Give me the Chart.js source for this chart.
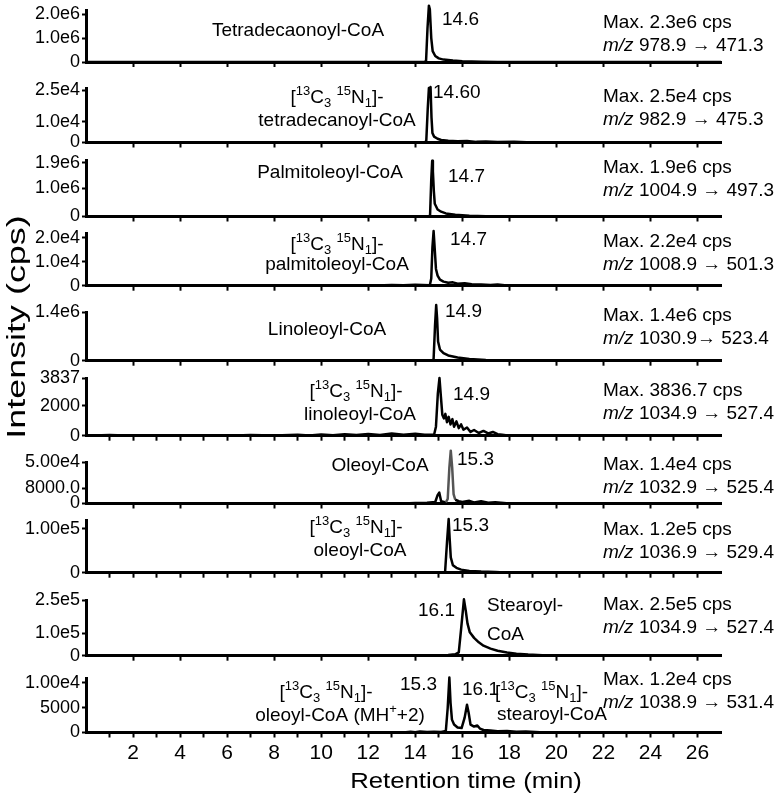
<!DOCTYPE html>
<html>
<head>
<meta charset="utf-8">
<script src="https://cdn.jsdelivr.net/npm/chart.js@4.4.1/dist/chart.umd.min.js"></script>
<style>
  html, body { margin: 0; padding: 0; background: #fff; }
  #figure { position: relative; width: 781px; height: 801px; }
  #figure canvas { position: absolute; left: 0; top: 0; }
</style>
</head>
<body>
<div id="figure"></div>
<script>
// Retention time axis (min).
const xTickLabels = [2, 4, 6, 8, 10, 12, 14, 16, 18, 20, 22, 24, 26];

// Chromatogram traces: [retention time (min), intensity (cps)].
const tetradecanoylCoA = [[0, 0], [14.40, 0], [14.46, 0.05e6], [14.52, 1.4e6], [14.58, 2.35e6], [14.62, 2.2e6], [14.68, 1.0e6], [14.74, 0.45e6], [14.85, 0.25e6], [15.0, 0.15e6], [15.2, 0.1e6], [15.6, 0.06e6], [16.0, 0.03e6], [16.8, 0.01e6], [17.5, 0], [27, 0]];
const tetradecanoylCoAIS = [[0, 0], [14.42, 0], [14.47, 1000], [14.53, 16000], [14.58, 26000], [14.61, 24500], [14.65, 26500], [14.69, 12000], [14.73, 4500], [14.8, 2800], [14.95, 1800], [15.1, 1200], [15.4, 800], [15.8, 600], [16.2, 700], [16.6, 300], [17.0, 500], [17.5, 200], [18.2, 300], [19, 0], [27, 0]];
const palmitoleoylCoA = [[0, 0], [14.58, 0], [14.63, 0.05e6], [14.68, 1.3e6], [14.72, 1.97e6], [14.75, 1.6e6], [14.79, 0.9e6], [14.83, 0.45e6], [14.95, 0.25e6], [15.1, 0.17e6], [15.3, 0.11e6], [15.7, 0.06e6], [16.3, 0.03e6], [17.0, 0.01e6], [17.6, 0], [27, 0]];
const palmitoleoylCoAIS = [[0, 0], [12, 0], [13, 300], [13.5, 200], [14.0, 400], [14.62, 200], [14.68, 3000], [14.73, 16000], [14.78, 22800], [14.83, 15000], [14.88, 7000], [14.95, 4200], [15.05, 2500], [15.2, 1700], [15.4, 1200], [15.6, 1400], [15.8, 800], [16.1, 1000], [16.4, 600], [16.8, 500], [17.2, 300], [17.5, 500], [18, 0], [27, 0]];
const linoleoylCoA = [[0, 0], [14.72, 0], [14.78, 0.05e6], [14.84, 1.0e6], [14.89, 1.6e6], [14.93, 1.2e6], [14.97, 0.55e6], [15.05, 0.32e6], [15.2, 0.22e6], [15.4, 0.15e6], [15.8, 0.09e6], [16.3, 0.05e6], [17.0, 0.02e6], [17.8, 0], [27, 0]];
const linoleoylCoAIS = [[0, 0], [1, 40], [2, 0], [3, 30], [4, 0], [5, 20], [6, 0], [7, 40], [8, 10], [9, 60], [9.5, 20], [10, 80], [10.5, 30], [11, 90], [11.5, 40], [12, 120], [12.5, 50], [13, 150], [13.5, 60], [14, 130], [14.4, 70], [14.8, 60], [14.88, 600], [14.96, 2800], [15.03, 3837], [15.09, 2600], [15.15, 1400], [15.22, 1150], [15.28, 1450], [15.35, 900], [15.42, 1250], [15.5, 750], [15.58, 1100], [15.65, 600], [15.75, 950], [15.85, 500], [15.95, 750], [16.05, 400], [16.2, 550], [16.35, 250], [16.5, 380], [16.7, 180], [16.9, 320], [17.1, 150], [17.3, 250], [17.5, 100], [17.7, 60], [18, 0], [27, 0]];
const oleoylCoA = [[0, 0], [13.5, 0], [14.0, 150], [14.5, 200], [14.85, 400], [14.95, 2200], [15.02, 2900], [15.1, 600], [15.3, 300], [15.38, 1200], [15.45, 9500], [15.51, 14000], [15.57, 9500], [15.63, 2500], [15.7, 1000], [15.85, 600], [16.0, 400], [16.3, 700], [16.5, 300], [16.8, 600], [17.1, 200], [17.4, 300], [18, 0], [27, 0]];
const oleoylCoAIS = [[0, 0], [15.2, 0], [15.27, 0.03e5], [15.35, 0.7e5], [15.42, 1.22e5], [15.46, 0.8e5], [15.51, 0.35e5], [15.6, 0.17e5], [15.75, 0.11e5], [15.95, 0.07e5], [16.3, 0.04e5], [16.8, 0.025e5], [17.4, 0.015e5], [18, 0], [27, 0]];
const stearoylCoA = [[0, 0], [14.5, 0], [15.0, 0.02e5], [15.4, 0.03e5], [15.7, 0.06e5], [15.85, 0.15e5], [15.95, 1.2e5], [16.07, 2.53e5], [16.15, 2.0e5], [16.22, 1.45e5], [16.32, 1.05e5], [16.5, 0.8e5], [16.7, 0.6e5], [16.9, 0.45e5], [17.2, 0.32e5], [17.5, 0.22e5], [17.9, 0.14e5], [18.3, 0.09e5], [18.8, 0.05e5], [19.4, 0.02e5], [20, 0], [27, 0]];
const oleoylStearoylIS = [[0, 0], [13.5, 0], [13.8, 150], [14.0, 50], [14.2, 200], [14.5, 80], [14.8, 150], [15.1, 120], [15.3, 300], [15.38, 5000], [15.45, 11100], [15.5, 6000], [15.56, 2600], [15.65, 1600], [15.8, 1000], [15.97, 900], [16.1, 3000], [16.2, 5600], [16.27, 4000], [16.35, 1600], [16.5, 1200], [16.64, 1400], [16.75, 800], [16.9, 500], [17.2, 400], [17.5, 250], [17.9, 300], [18.3, 150], [18.7, 200], [19.1, 100], [19.5, 0], [27, 0]];

// Y axis ticks of each panel (values and printed labels).
const yTicks = [
    [0, 1e6, 2e6], [0, 1e4, 2.5e4], [0, 1e6, 1.9e6], [0, 1e4, 2e4], [0, 1.4e6],
    [0, 2000, 3837], [0, 4000, 1.1e4], [0, 1e5], [0, 1e5, 2.5e5], [0, 5000, 1e4],
];
const yTickLabels = [
    ['0', '1.0e6', '2.0e6'], ['0', '1.0e4', '2.5e4'], ['0', '1.0e6', '1.9e6'], ['0', '1.0e4', '2.0e4'], ['0', '1.4e6'],
    ['0', '2000', '3837'], ['0', '8000.0', '5.00e4'], ['0', '1.00e5'], ['0', '1.0e5', '2.5e5'], ['0', '5000', '1.00e4'],
];
const yMax = [2.17e6, 2.6e4, 2.0e6, 2.2e4, 1.4e6, 3837, 1.1e4, 1.2e5, 2.5e5, 1.1e4];

// Panel text.
const maxIntensities = ['Max. 2.3e6 cps', 'Max. 2.5e4 cps', 'Max. 1.9e6 cps', 'Max. 2.2e4 cps', 'Max. 1.4e6 cps',
    'Max. 3836.7 cps', 'Max. 1.4e4 cps', 'Max. 1.2e5 cps', 'Max. 2.5e5 cps', 'Max. 1.2e4 cps'];
const transitions = [' 978.9 \u2192 471.3', ' 982.9 \u2192 475.3', ' 1004.9 \u2192 497.3', ' 1008.9 \u2192 501.3', ' 1030.9\u2192 523.4',
    ' 1034.9 \u2192 527.4', ' 1032.9 \u2192 525.4', ' 1036.9 \u2192 529.4', ' 1034.9 \u2192 527.4', ' 1038.9 \u2192 531.4'];

const FONT = '"Liberation Sans", Arial, Helvetica, sans-serif';
const W = 781, H = 801, PLOT_RIGHT = 721;

// "[13C3 15N1]-" with super/subscripts.
const labelled = [['[', ''], ['13', 'sup'], ['C', ''], ['3', 'sub'], [' ', ''], ['15', 'sup'], ['N', ''], ['1', 'sub'], [']-', '']];
const plain = s => [[s, '']];

// Layout of each panel: pixel top of the y axis, baseline, trace, and text.
const panels = [
    {top: 10, base: 62, data: tetradecanoylCoA, step: 2, infoY: 28, texts: [
        {parts: plain('Tetradecaonoyl-CoA'), x: 298, y: 36, align: 'center'},
        {parts: plain('14.6'), x: 442, y: 25}]},
    {top: 88, base: 142.5, data: tetradecanoylCoAIS, step: 2, infoY: 101.5, texts: [
        {parts: labelled, x: 337, y: 103, align: 'center'},
        {parts: plain('tetradecanoyl-CoA'), x: 337, y: 126, align: 'center'},
        {parts: plain('14.60'), x: 433, y: 98}]},
    {top: 160, base: 216.5, data: palmitoleoylCoA, step: 2, infoY: 173, texts: [
        {parts: plain('Palmitoleoyl-CoA'), x: 330, y: 178, align: 'center'},
        {parts: plain('14.7'), x: 448, y: 182}]},
    {top: 233, base: 285.7, data: palmitoleoylCoAIS, step: 2, infoY: 247, texts: [
        {parts: labelled, x: 337, y: 250, align: 'center'},
        {parts: plain('palmitoleoyl-CoA'), x: 337, y: 270, align: 'center'},
        {parts: plain('14.7'), x: 450, y: 245}]},
    {top: 312, base: 360.7, data: linoleoylCoA, step: 2, infoY: 321, texts: [
        {parts: plain('Linoleoyl-CoA'), x: 327, y: 335, align: 'center'},
        {parts: plain('14.9'), x: 445, y: 317}]},
    {top: 378, base: 435.7, data: linoleoylCoAIS, step: 1, infoY: 396, texts: [
        {parts: labelled, x: 356, y: 397, align: 'center'},
        {parts: plain('linoleoyl-CoA'), x: 360, y: 420, align: 'center'},
        {parts: plain('14.9'), x: 453, y: 400}]},
    {top: 462, base: 503.5, data: oleoylCoA, step: 2, infoY: 470, grey: [15.3, 15.75], texts: [
        {parts: plain('Oleoyl-CoA'), x: 380, y: 471, align: 'center'},
        {parts: plain('15.3'), x: 457, y: 465}]},
    {top: 520, base: 572.7, data: oleoylCoAIS, step: 1, infoY: 535, texts: [
        {parts: labelled, x: 356, y: 533, align: 'center'},
        {parts: plain('oleoyl-CoA'), x: 360, y: 556, align: 'center'},
        {parts: plain('15.3'), x: 452, y: 531}]},
    {top: 600, base: 655.7, data: stearoylCoA, step: 2, infoY: 610, texts: [
        {parts: plain('16.1'), x: 418, y: 616},
        {parts: plain('Stearoyl-'), x: 487, y: 611},
        {parts: plain('CoA'), x: 487, y: 640}]},
    {top: 678, base: 732.5, data: oleoylStearoylIS, step: 1, infoY: 685, bottom: true, texts: [
        {parts: labelled, x: 326, y: 698, align: 'center'},
        {parts: [['oleoyl-CoA (MH', ''], ['+', 'sup'], ['+2)', '']], x: 340, y: 721, align: 'center'},
        {parts: plain('15.3'), x: 400, y: 690},
        {parts: plain('16.1'), x: 462, y: 695},
        {parts: labelled, x: 495, y: 698},
        {parts: plain('stearoyl-CoA'), x: 497, y: 720}]},
];

function fontFor(kind, size) {
    if (kind === 'sup' || kind === 'sub') return Math.round(size * 0.66) + 'px ' + FONT;
    if (kind === 'i') return 'italic ' + size + 'px ' + FONT;
    return size + 'px ' + FONT;
}

function drawRich(ctx, parts, x, y, size, align) {
    let width = 0;
    for (const [text, kind] of parts) {
        ctx.font = fontFor(kind, size);
        width += ctx.measureText(text).width;
    }
    let cx = align === 'center' ? x - width / 2 : x;
    ctx.textAlign = 'left';
    ctx.textBaseline = 'alphabetic';
    for (const [text, kind] of parts) {
        ctx.font = fontFor(kind, size);
        const dy = kind === 'sup' ? -size * 0.4 : kind === 'sub' ? size * 0.22 : 0;
        ctx.fillText(text, cx, y + dy);
        cx += ctx.measureText(text).width;
    }
}

// Plugin drawing the names, peak times and MRM info of one panel.
function panelText(panel, i) {
    return {
        id: 'panelText' + i,
        afterDraw(chart) {
            const {ctx} = chart;
            ctx.save();
            ctx.fillStyle = '#000';
            for (const t of panel.texts) {
                drawRich(ctx, t.parts, t.x, t.y, 19, t.align);
            }
            drawRich(ctx, plain(maxIntensities[i]), 603, panel.infoY, 19);
            drawRich(ctx, [['m/z', 'i'], [transitions[i], '']], 603, panel.infoY + 23, 19);
            ctx.restore();
        }
    };
}

// Axis titles, drawn once on the bottom panel.
const axisTitles = {
    id: 'axisTitles',
    afterDraw(chart) {
        const {ctx} = chart;
        ctx.save();
        ctx.fillStyle = '#000';
        ctx.textAlign = 'center';
        ctx.textBaseline = 'alphabetic';
        ctx.font = '22px ' + FONT;
        ctx.translate(466, 788);
        ctx.scale(1.17, 1);
        ctx.fillText('Retention time (min)', 0, 0);
        ctx.restore();

        ctx.save();
        ctx.fillStyle = '#000';
        ctx.textAlign = 'center';
        ctx.textBaseline = 'alphabetic';
        ctx.font = '26px ' + FONT;
        ctx.translate(25, 327);
        ctx.rotate(-Math.PI / 2);
        ctx.scale(1.38, 1);
        ctx.fillText('Intensity (cps)', 0, 0);
        ctx.restore();
    }
};

function build() {
    const figure = document.getElementById('figure');

    panels.forEach((panel, i) => {
        const canvas = document.createElement('canvas');
        canvas.width = W;
        canvas.height = H;
        figure.appendChild(canvas);

        const xAxisHeight = panel.bottom ? 40 : 10;
        const minorTicks = [];
        for (let t = panel.step; t <= 26; t += panel.step) {
            minorTicks.push(t);
        }

        const dataset = {
            data: panel.data,
            borderColor: '#000',
            borderWidth: 2.5,
            borderJoinStyle: 'round',
            pointRadius: 0,
            tension: 0,
            clip: false,
        };
        if (panel.grey) {
            // The oleoyl-CoA peak is printed in grey.
            dataset.segment = {
                borderColor: c => (c.p0.parsed.x >= panel.grey[0] && c.p1.parsed.x <= panel.grey[1]) ? '#555' : '#000',
            };
        }

        new Chart(canvas, {
            type: 'line',
            data: {datasets: [dataset]},
            options: {
                responsive: false,
                animation: false,
                events: [],
                layout: {
                    padding: {top: panel.top, left: 0, right: W - PLOT_RIGHT, bottom: H - panel.base - xAxisHeight},
                },
                plugins: {
                    legend: {display: false},
                    tooltip: {enabled: false},
                    title: {display: false},
                },
                scales: {
                    x: {
                        type: 'linear',
                        min: 0,
                        max: 27,
                        afterBuildTicks: axis => {
                            axis.ticks = minorTicks.map(v => ({value: v}));
                        },
                        afterFit: axis => {
                            axis.height = xAxisHeight;
                            axis.paddingLeft = 0;
                            axis.paddingRight = 0;
                        },
                        border: {display: true, color: '#000', width: 3},
                        grid: {display: true, drawOnChartArea: false, drawTicks: true, tickLength: 5, tickWidth: 2, tickColor: '#000'},
                        ticks: {
                            display: !!panel.bottom,
                            autoSkip: false,
                            maxRotation: 0,
                            padding: 3,
                            color: '#000',
                            font: {family: FONT, size: 21},
                            callback: v => xTickLabels.includes(v) ? String(v) : '',
                        },
                    },
                    y: {
                        type: 'linear',
                        min: 0,
                        max: yMax[i],
                        afterBuildTicks: axis => {
                            axis.ticks = yTicks[i].map(v => ({value: v}));
                        },
                        afterFit: axis => {
                            axis.width = 86;
                            axis.paddingTop = 0;
                            axis.paddingBottom = 0;
                        },
                        border: {display: true, color: '#000', width: 3},
                        grid: {display: true, drawOnChartArea: false, drawTicks: true, tickLength: 4, tickWidth: 2, tickColor: '#000'},
                        ticks: {
                            autoSkip: false,
                            padding: 2,
                            color: '#000',
                            font: {family: FONT, size: 18},
                            callback: (v, idx) => yTickLabels[i][idx],
                        },
                    },
                },
            },
            plugins: panel.bottom ? [panelText(panel, i), axisTitles] : [panelText(panel, i)],
        });
    });
}

build();
</script>
</body>
</html>
